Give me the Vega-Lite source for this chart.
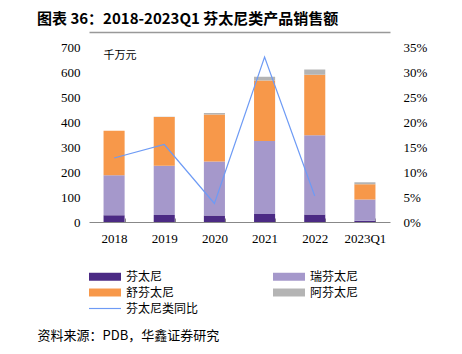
{
  "$schema": "https://vega.github.io/schema/vega-lite/v6.json",
  "width": 301,
  "height": 175,
  "autosize": "none",
  "padding": {"left": 89, "top": 47, "right": 72, "bottom": 132},
  "background": "white",
  "title": {
    "text": "图表 36：2018-2023Q1 芬太尼类产品销售额",
    "anchor": "start",
    "frame": "group",
    "dx": -52,
    "offset": 5,
    "font": "Noto Sans CJK SC",
    "fontSize": 15,
    "fontWeight": "bold",
    "color": "#000000"
  },
  "config": {"view": {"stroke": null}},
  "datasets": {
    "sales": [
      {"year": "2018", "type": "芬太尼", "value": 27},
      {"year": "2018", "type": "瑞芬太尼", "value": 160},
      {"year": "2018", "type": "舒芬太尼", "value": 178},
      {"year": "2018", "type": "阿芬太尼", "value": 0},
      {"year": "2019", "type": "芬太尼", "value": 28},
      {"year": "2019", "type": "瑞芬太尼", "value": 197},
      {"year": "2019", "type": "舒芬太尼", "value": 195},
      {"year": "2019", "type": "阿芬太尼", "value": 1},
      {"year": "2020", "type": "芬太尼", "value": 26},
      {"year": "2020", "type": "瑞芬太尼", "value": 216},
      {"year": "2020", "type": "舒芬太尼", "value": 188},
      {"year": "2020", "type": "阿芬太尼", "value": 6},
      {"year": "2021", "type": "芬太尼", "value": 32},
      {"year": "2021", "type": "瑞芬太尼", "value": 292},
      {"year": "2021", "type": "舒芬太尼", "value": 242},
      {"year": "2021", "type": "阿芬太尼", "value": 15},
      {"year": "2022", "type": "芬太尼", "value": 30},
      {"year": "2022", "type": "瑞芬太尼", "value": 317},
      {"year": "2022", "type": "舒芬太尼", "value": 242},
      {"year": "2022", "type": "阿芬太尼", "value": 21},
      {"year": "2023Q1", "type": "芬太尼", "value": 5},
      {"year": "2023Q1", "type": "瑞芬太尼", "value": 85},
      {"year": "2023Q1", "type": "舒芬太尼", "value": 61},
      {"year": "2023Q1", "type": "阿芬太尼", "value": 8}
    ],
    "yoy": [
      {"year": "2018", "yoy": 0.128},
      {"year": "2019", "yoy": 0.155},
      {"year": "2020", "yoy": 0.037},
      {"year": "2021", "yoy": 0.33},
      {"year": "2022", "yoy": 0.052}
    ]
  },
  "layer": [
    {
      "data": {"name": "sales"},
      "transform": [
        {"calculate": "indexof(['芬太尼','瑞芬太尼','舒芬太尼','阿芬太尼'], datum.type)", "as": "k"}
      ],
      "mark": {"type": "bar"},
      "encoding": {
        "x": {
          "field": "year",
          "type": "nominal",
          "sort": null,
          "scale": {"paddingInner": 0.58, "paddingOuter": 0.29},
          "axis": {
            "orient": "bottom",
            "labelAngle": 0,
            "labelFont": "Liberation Serif",
            "labelFontSize": 13,
            "labelColor": "#000000",
            "domainColor": "#888888",
            "tickColor": "#888888",
            "tickBand": "extent",
            "tickSize": -4,
            "labelPadding": 14,
            "title": "资料来源：PDB，华鑫证券研究",
            "titleFont": "Noto Sans CJK SC",
            "titleFontSize": 13,
            "titleFontWeight": "normal",
            "titleColor": "#000000",
            "titleX": -52,
            "titleY": 113,
            "titleAlign": "left",
            "titleBaseline": "middle",
            "titleAnchor": null
          }
        },
        "y": {
          "field": "value",
          "type": "quantitative",
          "stack": "zero",
          "scale": {"domain": [0, 700]},
          "axis": {
            "values": [0, 100, 200, 300, 400, 500, 600, 700],
            "domain": false,
            "ticks": false,
            "grid": false,
            "labelPadding": 9,
            "labelFont": "Liberation Serif",
            "labelFontSize": 13,
            "labelColor": "#000000",
            "title": "千万元",
            "titleAngle": 0,
            "titleX": 14,
            "titleY": 8,
            "titleAlign": "left",
            "titleBaseline": "middle",
            "titleFont": "Noto Sans CJK SC",
            "titleFontSize": 11,
            "titleFontWeight": "normal",
            "titleColor": "#000000"
          }
        },
        "color": {
          "field": "type",
          "type": "nominal",
          "scale": {
            "domain": ["芬太尼", "瑞芬太尼", "舒芬太尼", "阿芬太尼", "芬太尼类同比"],
            "range": ["#4B2A84", "#A598CB", "#F7984A", "#B4B4B4", "#6E9BF5"]
          },
          "legend": {
            "orient": "none",
            "legendX": 9.5,
            "legendY": 223,
            "direction": "horizontal",
            "columns": 2,
            "columnPadding": 74,
            "rowPadding": 3,
            "title": null,
            "symbolType": "M-2.46,-0.615H2.46V0.615H-2.46Z",
            "symbolSize": 169,
            "symbolStrokeWidth": 0,
            "labelFont": "Noto Sans CJK SC",
            "labelFontSize": 12,
            "labelColor": "#000000",
            "labelOffset": 14.5,
            "encode": {
              "symbols": {
                "update": {
                  "shape": {"signal": "datum.value === '芬太尼类同比' ? 'M-2.46,-0.09H2.46V0.09H-2.46Z' : 'M-2.46,-0.615H2.46V0.615H-2.46Z'"}
                }
              }
            }
          }
        },
        "order": {"field": "k", "type": "quantitative"}
      }
    },
    {
      "data": {"name": "yoy"},
      "mark": {"type": "line", "color": "#6E9BF5", "strokeWidth": 1.2},
      "encoding": {
        "x": {
          "field": "year",
          "type": "nominal",
          "sort": null,
          "axis": {
            "orient": "top",
            "labels": false,
            "ticks": false,
            "domain": true,
            "domainColor": "#999999",
            "domainWidth": 1.5,
            "offset": 15,
            "title": null
          }
        },
        "y": {
          "field": "yoy",
          "type": "quantitative",
          "scale": {"domain": [0, 0.35]},
          "axis": {
            "orient": "right",
            "values": [0, 0.05, 0.1, 0.15, 0.2, 0.25, 0.3, 0.35],
            "format": ".0%",
            "domain": false,
            "ticks": false,
            "grid": false,
            "labelPadding": 13,
            "labelFont": "Liberation Serif",
            "labelFontSize": 13,
            "labelColor": "#000000",
            "title": null
          }
        }
      }
    }
  ],
  "resolve": {"scale": {"y": "independent"}, "axis": {"x": "independent"}}
}
